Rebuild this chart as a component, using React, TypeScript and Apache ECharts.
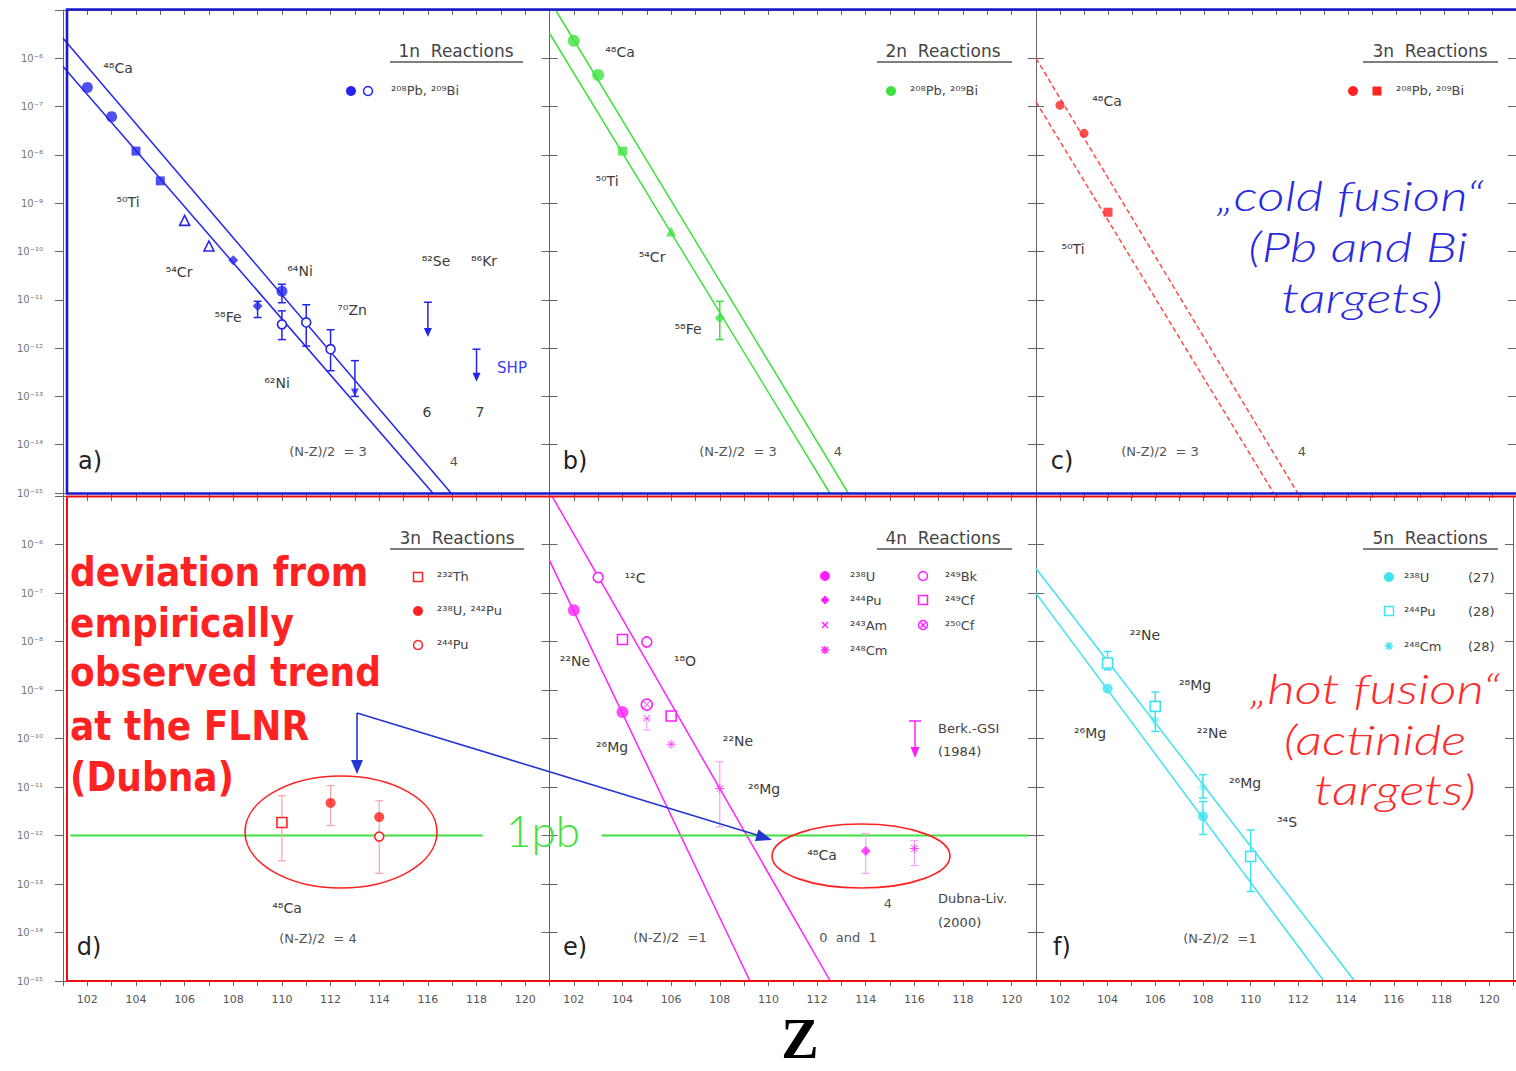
import React, { useEffect, useRef } from 'react';
import * as echarts from 'echarts';

// ---------------- axis / tick data ----------------
const Z_MIN = 101;
const Z_MAX = 121;
const Y_MIN = 1e-15;
const Y_MAX = 1e-5;
const Z_LABELS = [102, 104, 106, 108, 110, 112, 114, 116, 118, 120];

// ---------------- panel a: 1n reactions ----------------
const a_filledCircle = [[102, 2.5e-7], [103, 6.2e-8], [110, 1.5e-11]];
const a_filledSquare = [[104, 1.2e-8], [105, 2.9e-9]];
const a_openTriangle = [[106, 4.4e-10], [107, 1.3e-10]];
const a_filledDiamond = [[108, 6.6e-11], [109, 7.4e-12]];
const a_openCircle = [[110, 3.1e-12], [111, 3.4e-12], [112, 9.5e-13]];
const a_filledTriDown = [[113, 1.2e-13]];
const a_errors = [[109, 4.3e-12, 9.3e-12], [110, 8.7e-12, 2.1e-11], [110, 1.5e-12, 5.9e-12], [111, 1.1e-12, 7.9e-12], [112, 3.4e-13, 2.4e-12], [113, 1.0e-13, 5.5e-13]];
const a_limits = [[116, 8.9e-12, 1.7e-12], [118, 9.5e-13, 2.0e-13]];
const a_trendLow = [[101, 6.8e-7], [116.2, 1e-15]];
const a_trendHigh = [[101, 2.6e-6], [116.95, 1e-15]];

// ---------------- panel b: 2n reactions ----------------
const b_filledCircle = [[102, 2.3e-6], [103, 4.5e-7]];
const b_filledSquare = [[104, 1.2e-8]];
const b_filledTriangle = [[106, 2.6e-10]];
const b_filledDiamond = [[108, 4.2e-12]];
const b_errors = [[108, 1.5e-12, 9.3e-12]];
const b_trendLow = [[101, 3.3e-6], [112.52, 1e-15]];
const b_trendHigh = [[101.25, 1e-5], [113.28, 1e-15]];

// ---------------- panel c: 3n reactions (cold) ----------------
const c_filledCircle = [[102, 1.07e-7], [103, 2.8e-8]];
const c_filledSquare = [[104, 6.5e-10]];
const c_trendLow = [[101, 1.26e-7], [110.9, 1e-15]];
const c_trendHigh = [[101, 1.0e-6], [111.9, 1e-15]];

// ---------------- panel d: 3n reactions (hot) ----------------
const d_openSquare = [[110, 1.86e-12]];
const d_filledCircle = [[112, 4.7e-12], [114, 2.4e-12]];
const d_openCircle = [[114, 9.5e-13]];
const d_errors = [[110, 3.0e-13, 6.6e-12], [112, 1.6e-12, 1.07e-11], [114, 1.66e-13, 5.2e-12]];
const d_onePb = [[101.3, 1e-12], [118.25, 1e-12]];

// ---------------- panel e: 4n reactions ----------------
const e_filledCircle = [[102, 4.4e-8], [104, 3.5e-10]];
const e_openCircle = [[103, 2.1e-7], [105, 9.8e-9]];
const e_openSquare = [[104, 1.1e-8], [106, 2.9e-10]];
const e_crossCircle = [[105, 5.0e-10]];
const e_cross = [[105, 2.6e-10]];
const e_asterisk = [[106, 7.6e-11], [108, 9.3e-12], [116, 5.4e-13]];
const e_filledDiamond = [[114, 4.8e-13]];
const e_errors = [[105, 1.5e-10, 2.6e-10], [114, 1.66e-13, 1.1e-12], [116, 2.4e-13, 7.9e-13]];
const e_errorsLight = [[108, 1.5e-12, 3.3e-11]];
const e_trendLow = [[101, 4.7e-7], [109.24, 1e-15]];
const e_trendHigh = [[101.1, 1e-5], [112.54, 1e-15]];
const e_onePb = [[103.15, 1e-12], [120.7, 1e-12]];

// ---------------- panel f: 5n reactions ----------------
const f_filledCircle = [[104, 1.07e-9], [108, 2.5e-12]];
const f_openSquare = [[104, 3.6e-9], [106, 4.6e-10], [110, 3.7e-13]];
const f_asterisk = [[106, 2.4e-10], [108, 1.0e-11]];
const f_errors = [[104, 2.6e-9, 6.2e-9], [106, 1.4e-10, 9.1e-10], [108, 5.9e-12, 1.8e-11], [108, 1.05e-12, 5.0e-12], [110, 7.0e-14, 1.3e-12]];
const f_trendLow = [[101, 9.8e-8], [113.07, 1e-15]];
const f_trendHigh = [[101, 3.2e-7], [114.36, 1e-15]];

// ---------------- styling ----------------
const BLUE = '#2424ee';
const GREEN = '#3ee23e';
const RED = '#ff2222';
const DASHRED = '#ff4a4a';
const MAGENTA = '#ff22ff';
const CYAN = '#3fe3f0';
const LABEL = '#3c3c3c';
const SANS = "'DejaVu Sans', 'Liberation Sans', sans-serif";
const THIN = "Lato, 'DejaVu Sans', sans-serif";

const GRID_LEFT = [63, 549.5, 1036];
const ROW_TOP = [10, 496];
const ROW_H = [483, 485];
const GRID_W = 486.5;

const ASTERISK = 'path://M-1,-10L1,-10L1,-2.4L6.4,-7.8L7.8,-6.4L2.4,-1L10,-1L10,1L2.4,1L7.8,6.4L6.4,7.8L1,2.4L1,10L-1,10L-1,2.4L-6.4,7.8L-7.8,6.4L-2.4,1L-10,1L-10,-1L-2.4,-1L-7.8,-6.4L-6.4,-7.8L-1,-2.4Z';
const CROSS = 'path://M-7.8,-6.4L-6.4,-7.8L0,-1.4L6.4,-7.8L7.8,-6.4L1.4,0L7.8,6.4L6.4,7.8L0,1.4L-6.4,7.8L-7.8,6.4L-1.4,0Z';

const SUPMAP: Record<string, string> = { '0': '⁰', '1': '¹', '2': '²', '3': '³', '4': '⁴', '5': '⁵', '6': '⁶', '7': '⁷', '8': '⁸', '9': '⁹', '-': '⁻' };
const sup = (s: string) => s.split('').map((c) => SUPMAP[c] ?? c).join('');
const iso = (a: string, el: string) => sup(a) + el;

// ---------------- series helpers ----------------
const sc = (g: number, data: number[][], symbol: string, size: number, color: string, open = false) => ({
  type: 'scatter', xAxisIndex: g * 2, yAxisIndex: g * 2, data, symbol, symbolSize: size, silent: true, z: 5,
  itemStyle: open ? { color: '#fff', borderColor: color, borderWidth: 1.6, opacity: 1 } : { color },
});

const ln = (g: number, data: number[][], color: string, dashed = false, width = 1.5) => ({
  type: 'line', xAxisIndex: g * 2, yAxisIndex: g * 2, data, symbol: 'none', showSymbol: false, silent: true, z: 3, clip: true,
  lineStyle: { color, width, type: dashed ? [5, 3] : 'solid' },
});

const err = (g: number, data: number[][], color: string, width = 1.5) => ({
  type: 'custom', xAxisIndex: g * 2, yAxisIndex: g * 2, data, silent: true, z: 4,
  renderItem: (_p: any, api: any) => {
    const x = api.value(0);
    const p1 = api.coord([x, api.value(1)]);
    const p2 = api.coord([x, api.value(2)]);
    const st = { stroke: color, lineWidth: width };
    const c = 4;
    return {
      type: 'group',
      children: [
        { type: 'line', shape: { x1: p1[0], y1: p1[1], x2: p2[0], y2: p2[1] }, style: st },
        { type: 'line', shape: { x1: p1[0] - c, y1: p1[1], x2: p1[0] + c, y2: p1[1] }, style: st },
        { type: 'line', shape: { x1: p2[0] - c, y1: p2[1], x2: p2[0] + c, y2: p2[1] }, style: st },
      ],
    };
  },
});

const limits = (g: number, data: number[][], color: string) => ({
  type: 'custom', xAxisIndex: g * 2, yAxisIndex: g * 2, data, silent: true, z: 4,
  renderItem: (_p: any, api: any) => {
    const x = api.value(0);
    const p1 = api.coord([x, api.value(1)]);
    const p2 = api.coord([x, api.value(2)]);
    const st = { stroke: color, lineWidth: 1.5 };
    return {
      type: 'group',
      children: [
        { type: 'line', shape: { x1: p1[0], y1: p1[1], x2: p2[0], y2: p2[1] - 6 }, style: st },
        { type: 'line', shape: { x1: p1[0] - 4, y1: p1[1], x2: p1[0] + 4, y2: p1[1] }, style: st },
        { type: 'polygon', shape: { points: [[p2[0] - 4, p2[1] - 9], [p2[0] + 4, p2[1] - 9], [p2[0], p2[1]]] }, style: { fill: color } },
      ],
    };
  },
});

// ---------------- graphic helpers ----------------
type TO = { size?: number; color?: string; align?: string; valign?: string; weight?: any; italic?: boolean; family?: string; sy?: number; sx?: number };
const T = (x: number, y: number, text: string, o: TO = {}) => ({
  type: 'text', x, y, z: 20, scaleY: o.sy ?? 1, scaleX: o.sx ?? 1, silent: true,
  style: {
    text, fill: o.color ?? LABEL, fontSize: o.size ?? 14, fontFamily: o.family ?? SANS,
    fontWeight: o.weight ?? 'normal', fontStyle: o.italic ? 'italic' : 'normal',
    align: o.align ?? 'center', verticalAlign: o.valign ?? 'middle',
  },
});
const L = (x1: number, y1: number, x2: number, y2: number, color: string, w = 1.2) => ({
  type: 'line', z: 20, silent: true, shape: { x1, y1, x2, y2 }, style: { stroke: color, lineWidth: w },
});
const dot = (cx: number, cy: number, color: string, r = 5) => ({ type: 'circle', z: 20, silent: true, shape: { cx, cy, r }, style: { fill: color } });
const ring = (cx: number, cy: number, color: string, r = 4.5) => ({ type: 'circle', z: 20, silent: true, shape: { cx, cy, r }, style: { fill: '#fff', stroke: color, lineWidth: 1.5 } });
const sq = (cx: number, cy: number, color: string, filled: boolean, s = 9) => ({
  type: 'rect', z: 20, silent: true, shape: { x: cx - s / 2, y: cy - s / 2, width: s, height: s },
  style: filled ? { fill: color } : { fill: '#fff', stroke: color, lineWidth: 1.5 },
});
const dia = (cx: number, cy: number, color: string, s = 5) => ({
  type: 'polygon', z: 20, silent: true, shape: { points: [[cx, cy - s], [cx + s, cy], [cx, cy + s], [cx - s, cy]] }, style: { fill: color },
});
const xmark = (cx: number, cy: number, color: string, s = 3.5) => [L(cx - s, cy - s, cx + s, cy + s, color, 1.5), L(cx - s, cy + s, cx + s, cy - s, color, 1.5)];
const star = (cx: number, cy: number, color: string, s = 4.5) => [
  ...xmark(cx, cy, color, s * 0.75), L(cx - s, cy, cx + s, cy, color, 1.5), L(cx, cy - s, cx, cy + s, color, 1.5),
];
const arrowHead = (x1: number, y1: number, tx: number, ty: number, color: string, len = 14, hw = 5) => {
  const dx = tx - x1, dy = ty - y1;
  const d = Math.hypot(dx, dy);
  const ux = dx / d, uy = dy / d;
  const bx = tx - len * ux, by = ty - len * uy;
  return {
    type: 'polygon', z: 21, silent: true,
    shape: { points: [[tx, ty], [bx - hw * uy, by + hw * ux], [bx + hw * uy, by - hw * ux]] },
    style: { fill: color },
  };
};
const title = (cx: number, cy: number, text: string, x1: number, x2: number) => [
  T(cx, cy, text, { size: 17, color: '#444' }),
  L(x1, cy + 11, x2, cy + 11, '#555', 1.3),
];

function buildOption() {
  const grids: any[] = [];
  const xAxes: any[] = [];
  const yAxes: any[] = [];
  for (let row = 0; row < 2; row++) {
    for (let col = 0; col < 3; col++) {
      const i = row * 3 + col;
      grids.push({ left: GRID_LEFT[col], top: ROW_TOP[row], width: GRID_W, height: ROW_H[row] });
      const axLine = { show: true, onZero: false, lineStyle: { color: '#666', width: 1 } };
      xAxes.push({
        gridIndex: i, type: 'value', min: Z_MIN, max: Z_MAX, interval: 1, position: 'bottom',
        axisLine: axLine, splitLine: { show: false },
        axisTick: { show: true, inside: false, length: 5, lineStyle: { color: '#666' } },
        axisLabel: {
          show: row === 1, color: '#555', fontSize: 11, fontFamily: SANS, margin: 13,
          formatter: (v: number) => (Z_LABELS.indexOf(Math.round(v)) >= 0 ? String(Math.round(v)) : ''),
        },
      });
      xAxes.push({
        gridIndex: i, type: 'value', min: Z_MIN, max: Z_MAX, interval: 1, position: 'top',
        axisLine: axLine, splitLine: { show: false },
        axisTick: { show: true, inside: true, length: 5, lineStyle: { color: '#666' } },
        axisLabel: { show: false },
      });
      yAxes.push({
        gridIndex: i, type: 'log', logBase: 10, min: Y_MIN, max: Y_MAX, interval: 1, splitNumber: 10, position: 'left',
        axisLine: axLine, splitLine: { show: false },
        axisTick: { show: true, inside: col !== 0, length: 8, lineStyle: { color: '#666' } },
        axisLabel: {
          show: col === 0, color: '#777', fontSize: 10, fontFamily: SANS, margin: 20,
          formatter: (v: number) => {
            const e = Math.round(Math.log10(v));
            return e === -5 ? '' : '10' + sup(String(e));
          },
        },
      });
      yAxes.push({
        gridIndex: i, type: 'log', logBase: 10, min: Y_MIN, max: Y_MAX, interval: 1, splitNumber: 10, position: 'right',
        axisLine: axLine, splitLine: { show: false },
        axisTick: { show: true, inside: true, length: 8, lineStyle: { color: '#666' } },
        axisLabel: { show: false },
      });
    }
  }

  const series: any[] = [
    // a
    ln(0, a_trendLow, BLUE), ln(0, a_trendHigh, BLUE),
    err(0, a_errors, BLUE), limits(0, a_limits, BLUE),
    sc(0, a_filledCircle, 'circle', 11, BLUE),
    sc(0, a_filledSquare, 'rect', 9, BLUE),
    sc(0, a_openTriangle, 'triangle', 10, BLUE, true),
    sc(0, a_filledDiamond, 'diamond', 10, BLUE),
    sc(0, a_openCircle, 'circle', 9, BLUE, true),
    sc(0, a_filledTriDown, 'path://M-5,-4L5,-4L0,5Z', 8, BLUE),
    // b
    ln(1, b_trendLow, GREEN), ln(1, b_trendHigh, GREEN),
    err(1, b_errors, GREEN),
    sc(1, b_filledCircle, 'circle', 12, GREEN),
    sc(1, b_filledSquare, 'rect', 9, GREEN),
    sc(1, b_filledTriangle, 'triangle', 10, GREEN),
    sc(1, b_filledDiamond, 'diamond', 10, GREEN),
    // c
    ln(2, c_trendLow, DASHRED, true), ln(2, c_trendHigh, DASHRED, true),
    sc(2, c_filledCircle, 'circle', 9, RED),
    sc(2, c_filledSquare, 'rect', 9, RED),
    // d
    ln(3, d_onePb, GREEN, false, 2),
    err(3, d_errors, '#f4a4a4', 1.2),
    sc(3, d_openSquare, 'rect', 10, RED, true),
    sc(3, d_filledCircle, 'circle', 10, RED),
    sc(3, d_openCircle, 'circle', 9, RED, true),
    // e
    ln(4, e_trendLow, MAGENTA), ln(4, e_trendHigh, MAGENTA),
    ln(4, e_onePb, GREEN, false, 2),
    err(4, e_errors, '#f9a6f9', 1.2), err(4, e_errorsLight, '#f6a0f6', 1.2),
    sc(4, e_filledCircle, 'circle', 12, MAGENTA),
    sc(4, e_openCircle, 'circle', 10, MAGENTA, true),
    sc(4, e_openSquare, 'rect', 10, MAGENTA, true),
    sc(4, e_crossCircle, 'circle', 11, MAGENTA, true),
    sc(4, e_crossCircle, CROSS, 7, MAGENTA),
    sc(4, e_cross, CROSS, 7, MAGENTA),
    sc(4, e_asterisk, ASTERISK, 9, MAGENTA),
    sc(4, e_filledDiamond, 'diamond', 10, MAGENTA),
    // f
    ln(5, f_trendLow, CYAN), ln(5, f_trendHigh, CYAN),
    err(5, f_errors, CYAN),
    sc(5, f_filledCircle, 'circle', 10, CYAN),
    sc(5, f_openSquare, 'rect', 10, CYAN, true),
    sc(5, f_asterisk, ASTERISK, 9, CYAN),
  ];

  const RB = { size: 36, color: RED, weight: 'bold', align: 'left', sy: 1.15 } as TO;
  const BIG_BLUE = { size: 41, color: '#2a2ae0', italic: true, weight: 300, family: THIN, sx: 1.3 } as TO;
  const BIG_RED = { size: 41, color: '#ff2a2a', italic: true, weight: 300, family: THIN, sx: 1.3 } as TO;
  const S = { size: 13, color: '#555' } as TO;
  const LG = { size: 13, color: '#444', align: 'left' } as TO;
  const PL = { size: 24, color: '#222' } as TO;

  const graphic: any[] = [
    // frames
    { type: 'rect', z: 15, silent: true, shape: { x: 67, y: 9.5, width: 1500, height: 484 }, style: { fill: 'none', stroke: '#1a1acc', lineWidth: 2.6 } },
    { type: 'rect', z: 15, silent: true, shape: { x: 67, y: 496.5, width: 1500, height: 484.5 }, style: { fill: 'none', stroke: '#ee1010', lineWidth: 2 } },

    // ---- panel a ----
    ...title(456, 51, '1n  Reactions', 390, 523),
    dot(351, 91, BLUE), ring(368, 91, BLUE),
    T(391, 90, iso('208', 'Pb') + ', ' + iso('209', 'Bi'), LG),
    T(118, 68, iso('48', 'Ca')), T(128, 202, iso('50', 'Ti')), T(179, 272, iso('54', 'Cr')),
    T(228, 317, iso('58', 'Fe')), T(300, 271, iso('64', 'Ni')), T(277, 383, iso('62', 'Ni')),
    T(352, 310, iso('70', 'Zn')), T(436, 261, iso('82', 'Se')), T(484, 261, iso('86', 'Kr')),
    T(427, 412, '6'), T(480, 412, '7'),
    T(512, 368, 'SHP', { size: 15, color: '#3b3bff' }),
    T(328, 451, '(N-Z)/2  = 3', S), T(454, 461, '4', S),
    T(90, 461, 'a)', PL),

    // ---- panel b ----
    ...title(943, 51, '2n  Reactions', 877, 1012),
    dot(891, 91, GREEN),
    T(910, 90, iso('208', 'Pb') + ', ' + iso('209', 'Bi'), LG),
    T(620, 52, iso('48', 'Ca')), T(607, 181, iso('50', 'Ti')), T(652, 257, iso('54', 'Cr')), T(688, 329, iso('58', 'Fe')),
    T(738, 451, '(N-Z)/2  = 3', S), T(838, 451, '4', S),
    T(575, 461, 'b)', PL),

    // ---- panel c ----
    ...title(1430, 51, '3n  Reactions', 1363, 1498),
    dot(1353, 91, RED), sq(1377, 91, RED, true),
    T(1396, 90, iso('208', 'Pb') + ', ' + iso('209', 'Bi'), LG),
    T(1107, 101, iso('48', 'Ca')), T(1073, 249, iso('50', 'Ti')),
    T(1160, 451, '(N-Z)/2  = 3', S), T(1302, 451, '4', S),
    T(1062, 461, 'c)', PL),
    T(1350, 195, '„cold fusion“', BIG_BLUE),
    T(1358, 246, '(Pb and Bi', BIG_BLUE),
    T(1362, 297, 'targets)', BIG_BLUE),

    // ---- panel d ----
    T(70, 572, 'deviation from', RB),
    T(70, 623, 'empirically', RB),
    T(70, 672, 'observed trend', RB),
    T(70, 726, 'at the FLNR', RB),
    T(70, 777, '(Dubna)', RB),
    ...title(457, 538, '3n  Reactions', 390, 524),
    sq(418, 577, RED, false), T(437, 576, iso('232', 'Th'), LG),
    dot(418, 611, RED), T(437, 610, iso('238', 'U') + ', ' + iso('242', 'Pu'), LG),
    ring(418, 645, RED), T(437, 644, iso('244', 'Pu'), LG),
    T(287, 908, iso('48', 'Ca')),
    T(318, 938, '(N-Z)/2  = 4', S),
    T(89, 947, 'd)', PL),
    { type: 'ellipse', z: 18, silent: true, shape: { cx: 341, cy: 832, rx: 96, ry: 56 }, style: { fill: 'none', stroke: RED, lineWidth: 1.6 } },
    T(543, 830, '1pb', { size: 44, color: GREEN, weight: 300, family: THIN }),
    // blue arrows
    L(357, 713, 357, 762, '#2436d0', 1.6),
    arrowHead(357, 713, 357, 774, '#2436d0', 14, 6),
    L(357, 713, 760, 836, '#2436d0', 1.6),
    arrowHead(357, 713, 772, 840, '#2436d0', 16, 6),

    // ---- panel e ----
    ...title(943, 538, '4n  Reactions', 877, 1012),
    dot(825, 576, MAGENTA), T(850, 576, iso('238', 'U'), LG),
    dia(825, 600, MAGENTA, 4.5), T(850, 600, iso('244', 'Pu'), LG),
    ...xmark(825, 625, MAGENTA, 3), T(850, 625, iso('243', 'Am'), LG),
    ...star(825, 650, MAGENTA, 4), T(850, 650, iso('248', 'Cm'), LG),
    ring(923, 576, MAGENTA), T(945, 576, iso('249', 'Bk'), LG),
    sq(923, 600, MAGENTA, false), T(945, 600, iso('249', 'Cf'), LG),
    ring(923, 625, MAGENTA), ...xmark(923, 625, MAGENTA, 2.5), T(945, 625, iso('250', 'Cf'), LG),
    L(915, 721, 915, 748, MAGENTA, 1.5), L(909, 721, 921, 721, MAGENTA, 1.5),
    { type: 'polygon', z: 20, silent: true, shape: { points: [[910.5, 747], [919.5, 747], [915, 758]] }, style: { fill: MAGENTA } },
    T(938, 728, 'Berk.-GSI', { size: 13, color: '#444', align: 'left' }),
    T(938, 751, '(1984)', { size: 13, color: '#444', align: 'left' }),
    T(635, 578, iso('12', 'C')), T(575, 661, iso('22', 'Ne')), T(685, 661, iso('18', 'O')),
    T(612, 747, iso('26', 'Mg')), T(738, 741, iso('22', 'Ne')), T(764, 789, iso('26', 'Mg')),
    T(822, 855, iso('48', 'Ca')), T(888, 903, '4', S),
    T(938, 898, 'Dubna-Liv.', { size: 13, color: '#444', align: 'left' }),
    T(938, 922, '(2000)', { size: 13, color: '#444', align: 'left' }),
    T(670, 937, '(N-Z)/2  =1', S), T(848, 937, '0  and  1', S),
    T(575, 947, 'e)', PL),
    { type: 'ellipse', z: 18, silent: true, shape: { cx: 861, cy: 856, rx: 89, ry: 32 }, style: { fill: 'none', stroke: RED, lineWidth: 1.6 } },

    // ---- panel f ----
    ...title(1430, 538, '5n  Reactions', 1363, 1498),
    dot(1389, 577, CYAN), T(1404, 577, iso('238', 'U'), LG), T(1468, 577, '(27)', LG),
    sq(1389, 611, CYAN, false), T(1404, 611, iso('244', 'Pu'), LG), T(1468, 611, '(28)', LG),
    ...star(1389, 646, CYAN, 4), T(1404, 646, iso('248', 'Cm'), LG), T(1468, 646, '(28)', LG),
    T(1145, 635, iso('22', 'Ne')), T(1195, 685, iso('28', 'Mg')), T(1090, 733, iso('26', 'Mg')),
    T(1212, 733, iso('22', 'Ne')), T(1245, 783, iso('26', 'Mg')), T(1287, 822, iso('34', 'S')),
    T(1220, 938, '(N-Z)/2  =1', S),
    T(1062, 947, 'f)', PL),
    T(1375, 688, '„hot fusion“', BIG_RED),
    T(1375, 739, '(actinide', BIG_RED),
    T(1395, 789, 'targets)', BIG_RED),

    // axis title
    T(800, 1039, 'Z', { size: 56, color: '#000', weight: 'bold', family: "'Liberation Serif', 'DejaVu Serif', serif" }),
  ];

  return {
    animation: false,
    backgroundColor: '#fff',
    grid: grids,
    xAxis: xAxes,
    yAxis: yAxes,
    series,
    graphic,
  };
}

export default function App() {
  const ref = useRef<HTMLDivElement>(null);
  useEffect(() => {
    const chart = echarts.init(ref.current as HTMLDivElement, null, { renderer: 'svg' });
    chart.setOption(buildOption() as any);
    return () => chart.dispose();
  }, []);
  return <div ref={ref} style={{ position: 'absolute', left: 0, top: 0, width: 1516, height: 1071, background: '#fff' }} />;
}
